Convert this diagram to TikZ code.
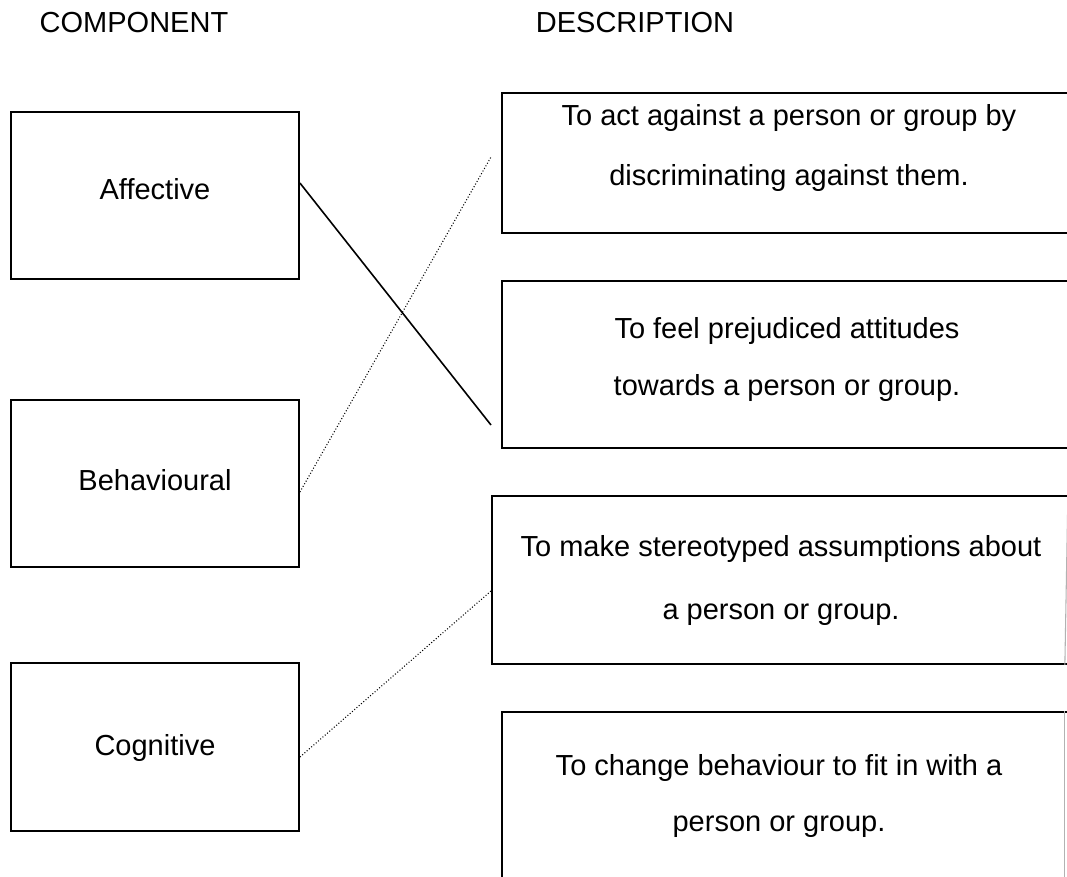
\documentclass[tikz,border=0pt]{standalone}
\usepackage{fontspec}
\setmainfont{Liberation Sans}
\begin{document}
\begin{tikzpicture}[x=0.75pt,y=-0.75pt,
  every node/.style={font=\fontsize{21.75pt}{26pt}\selectfont, inner sep=0pt},
  leftbox/.style={draw, line width=1.4pt, minimum width=216pt, minimum height=125.25pt},
  rightbox/.style={draw, line width=1.4pt, anchor=north west},
  txt/.style={anchor=base},
  solidlink/.style={line width=1.2pt},
  dottedlink/.style={line width=0.8pt, dash pattern=on 0.75pt off 1.5pt}]
\useasboundingbox (0,0) rectangle (1067,877);
% headers
\node[txt] (h1) at (134,33) {COMPONENT};
\node[txt] (h2) at (635,33) {DESCRIPTION};
% left boxes
\node[leftbox] (aff) at (155,195.5) {};
\node[leftbox] (beh) at (155,483.5) {};
\node[leftbox, minimum height=126pt] (cog) at (155,747) {};
\node[txt] (afft) at (155,200) {Affective};
\node[txt] (beht) at (155,490) {Behavioural};
\node[txt] (cogt) at (155,755) {Cognitive};
% right boxes (open to the right edge)
\node[rightbox, minimum width=430.5pt, minimum height=105pt] (r1) at (501,92) {};
\node[rightbox, minimum width=430.5pt, minimum height=125.25pt] (r2) at (501,280) {};
\node[rightbox, minimum width=438pt, minimum height=126pt] (r3) at (491,495) {};
\node[rightbox, minimum width=430.5pt, minimum height=140pt] (r4) at (501,711) {};
\draw[gray!60, line width=0.8pt] (r3.north east) ++(-9,0) coordinate (r3e) -- ([xshift=-9]r3.south east);
\draw[gray!60, line width=0.8pt] ([xshift=-9]r4.north east) -- ([xshift=-9]r4.south east);
% right texts
\node[txt] (r1a) at (789,126) {To act against a person or group by};
\node[txt] (r1b) at (789,186) {discriminating against them.};
\node[txt] (r2a) at (787,339) {To feel prejudiced attitudes};
\node[txt] (r2b) at (787,395) {towards a person or group.};
\node[txt] (r3a) at (781,556) {To make stereotyped assumptions about};
\node[txt] (r3b) at (781,619) {a person or group.};
\node[txt] (r4a) at (779,775) {To change behaviour to fit in with a};
\node[txt] (r4b) at (779,831) {person or group.};
% free ends of connectors
\coordinate (e1) at (491,425);
\coordinate (e2) at (491,157);
\coordinate (e3) at (491,591);
% connectors
\draw[solidlink] ([yshift=12.5*0.75pt]aff.east) -- (e1);
\draw[dottedlink] ([yshift=-8.5*0.75pt]beh.east) -- (e2);
\draw[dottedlink] ([yshift=-10*0.75pt]cog.east) -- (e3);
\end{tikzpicture}
\end{document}
